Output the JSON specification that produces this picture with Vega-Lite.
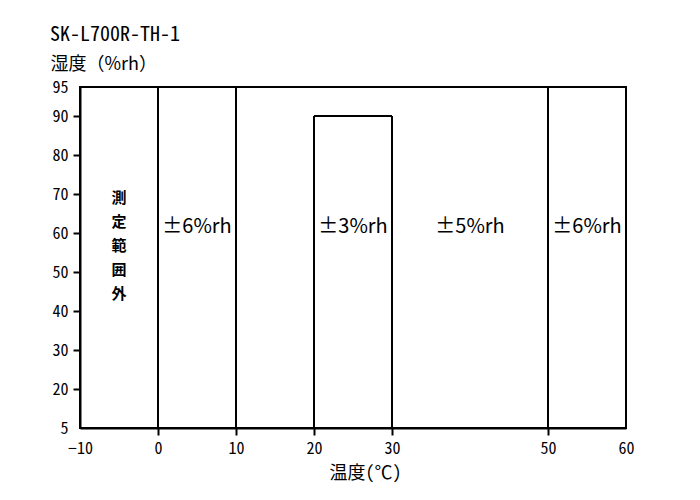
{
  "$schema": "https://vega.github.io/schema/vega-lite/v6.json",
  "width": 546,
  "height": 341,
  "autosize": {"type": "none"},
  "padding": {"left": 80, "top": 87, "right": 74, "bottom": 72},
  "background": "white",
  "title": {
    "text": "SK-L700R-TH-1",
    "anchor": "start",
    "frame": "group",
    "dx": -30,
    "offset": 10,
    "font": "Noto Sans Mono CJK JP, DejaVu Sans Mono, monospace",
    "fontSize": 20,
    "fontWeight": "normal",
    "color": "black"
  },
  "config": {
    "view": {"stroke": "black", "strokeWidth": 2},
    "axis": {
      "grid": false,
      "domainColor": "black",
      "domainWidth": 2,
      "tickColor": "black",
      "tickWidth": 2,
      "tickSize": 7,
      "titleColor": "black",
      "titleFontWeight": "normal"
    }
  },
  "datasets": {
    "segments": [
      {"x0": 0, "x1": 0, "y0": 5, "y1": 95},
      {"x0": 10, "x1": 10, "y0": 5, "y1": 95},
      {"x0": 20, "x1": 20, "y0": 5, "y1": 90},
      {"x0": 30, "x1": 30, "y0": 5, "y1": 90},
      {"x0": 20, "x1": 30, "y0": 90, "y1": 90},
      {"x0": 50, "x1": 50, "y0": 5, "y1": 95}
    ],
    "tolerances": [
      {"temp": 5, "rh": 61.5, "label": "±6%rh"},
      {"temp": 25, "rh": 61.5, "label": "±3%rh"},
      {"temp": 40, "rh": 61.5, "label": "±5%rh"},
      {"temp": 55, "rh": 61.5, "label": "±6%rh"}
    ],
    "outside": [
      {"temp": -5, "rh": 69, "label": "測\n定\n範\n囲\n外"}
    ]
  },
  "layer": [
    {
      "data": {"name": "segments"},
      "mark": {"type": "rule", "color": "black", "strokeWidth": 2},
      "encoding": {
        "x": {
          "field": "x0",
          "type": "quantitative",
          "scale": {"domain": [-10, 60], "nice": false, "zero": false},
          "axis": {
            "values": [-10, 0, 10, 20, 30, 50, 60],
            "tickCount": 20,
            "labelFont": "Liberation Sans Narrow, Noto Sans Mono CJK JP, DejaVu Sans Mono, monospace",
            "labelFontSize": 16,
            "labelColor": "black",
            "labelPadding": 5,
            "labelOverlap": false,
            "labelFlush": false,
            "title": "温度(℃)",
            "titleFont": "Noto Sans Mono CJK JP, DejaVu Sans Mono, monospace",
            "titleFontSize": 18,
            "titleX": 285,
            "titleY": 45,
            "titleBaseline": "middle",
            "tickOpacity": {"condition": {"test": "datum.value == -10 || datum.value == 60", "value": 0}, "value": 1}
          }
        },
        "x2": {"field": "x1"},
        "y": {
          "field": "y0",
          "type": "quantitative",
          "scale": {"domain": [5, 20, 90, 95], "range": [341, 302, 29, 0], "nice": false, "zero": false},
          "axis": {
            "values": [5, 20, 30, 40, 50, 60, 70, 80, 90, 95],
            "tickCount": 20,
            "labelFont": "Liberation Sans Narrow, Noto Sans Mono CJK JP, DejaVu Sans Mono, monospace",
            "labelFontSize": 16,
            "labelColor": "black",
            "labelPadding": 5,
            "labelOverlap": false,
            "labelFlush": false,
            "labelBound": false,
            "title": "湿度（%rh）",
            "titleFont": "Noto Sans CJK JP, sans-serif",
            "titleFontSize": 18,
            "titleAngle": 0,
            "titleAlign": "left",
            "titleBaseline": "middle",
            "titleX": -30,
            "titleY": -23,
            "tickOpacity": {"condition": {"test": "datum.value == 5 || datum.value == 95", "value": 0}, "value": 1}
          }
        },
        "y2": {"field": "y1"}
      }
    },
    {
      "data": {"name": "tolerances"},
      "mark": {"type": "text", "font": "Noto Sans CJK JP, sans-serif", "fontSize": 20, "color": "black", "baseline": "middle", "align": "center"},
      "encoding": {
        "x": {"field": "temp", "type": "quantitative"},
        "y": {"field": "rh", "type": "quantitative"},
        "text": {"field": "label", "type": "nominal"}
      }
    },
    {
      "data": {"name": "outside"},
      "mark": {"type": "text", "font": "Noto Sans CJK JP, sans-serif", "fontSize": 15, "fontWeight": "bold", "lineBreak": "\n", "lineHeight": 24, "color": "black", "baseline": "middle", "align": "center"},
      "encoding": {
        "x": {"field": "temp", "type": "quantitative"},
        "y": {"field": "rh", "type": "quantitative"},
        "text": {"field": "label", "type": "nominal"}
      }
    }
  ]
}
